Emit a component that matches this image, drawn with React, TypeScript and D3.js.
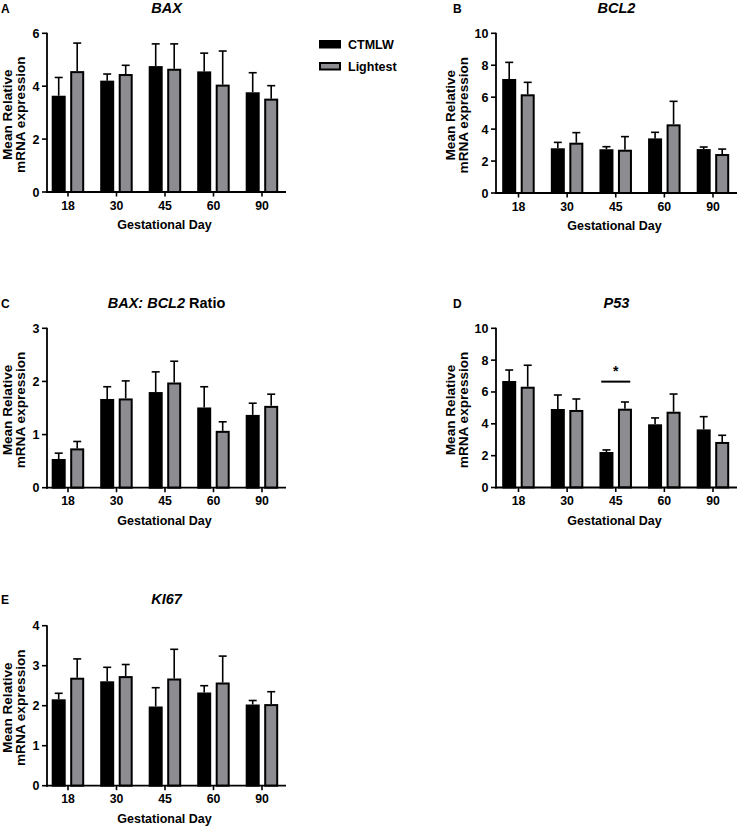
import React from "react";
import * as d3 from "d3";

const days = ["18", "30", "45", "60", "90"];
const seriesNames = ["CTMLW", "Lightest"];

const baxCtmlw = [3.64, 4.21, 4.76, 4.56, 3.77];
const baxCtmlwSem = [0.69, 0.25, 0.84, 0.69, 0.74];
const baxLightest = [4.57, 4.46, 4.66, 4.06, 3.53];
const baxLightestSem = [1.06, 0.33, 0.94, 1.27, 0.49];

const bcl2Ctmlw = [7.14, 2.8, 2.74, 3.42, 2.75];
const bcl2CtmlwSem = [1.04, 0.37, 0.16, 0.38, 0.13];
const bcl2Lightest = [6.18, 3.15, 2.71, 4.3, 2.44];
const bcl2LightestSem = [0.75, 0.63, 0.82, 1.44, 0.31];

const ratioCtmlw = [0.54, 1.67, 1.8, 1.51, 1.37];
const ratioCtmlwSem = [0.11, 0.23, 0.38, 0.39, 0.22];
const ratioLightest = [0.74, 1.68, 1.98, 1.07, 1.54];
const ratioLightestSem = [0.13, 0.33, 0.4, 0.17, 0.22];

const p53Ctmlw = [6.69, 4.93, 2.23, 3.97, 3.65];
const p53CtmlwSem = [0.69, 0.88, 0.13, 0.4, 0.8];
const p53Lightest = [6.33, 4.87, 4.95, 4.76, 2.86];
const p53LightestSem = [1.35, 0.69, 0.42, 1.11, 0.42];

const ki67Ctmlw = [2.16, 2.61, 1.98, 2.33, 2.03];
const ki67CtmlwSem = [0.15, 0.35, 0.47, 0.17, 0.1];
const ki67Lightest = [2.7, 2.74, 2.68, 2.58, 2.04];
const ki67LightestSem = [0.47, 0.29, 0.73, 0.66, 0.31];

const baxTicks = [0, 2, 4, 6];
const bcl2Ticks = [0, 2, 4, 6, 8, 10];
const ratioTicks = [0, 1, 2, 3];
const p53Ticks = [0, 2, 4, 6, 8, 10];
const ki67Ticks = [0, 1, 2, 3, 4];

const p53SigDay = "45";
const p53SigValue = 6.65;

const FONT = "'Liberation Sans', Arial, Helvetica, sans-serif";
const GRAY = "#8c8c91";

type TitlePart = { t: string; italic: boolean };

type PanelDef = {
  letter: string;
  title: TitlePart[];
  left: boolean;
  top: number;
  bottom: number;
  yMax: number;
  ticks: number[];
  a: number[];
  aSem: number[];
  b: number[];
  bSem: number[];
  titleBase: number;
  sig?: { day: string; value: number };
};

const panels: PanelDef[] = [
  { letter: "A", title: [{ t: "BAX", italic: true }], left: true, top: 33.3, bottom: 192, yMax: 6, ticks: baxTicks, a: baxCtmlw, aSem: baxCtmlwSem, b: baxLightest, bSem: baxLightestSem, titleBase: 12.8 },
  { letter: "B", title: [{ t: "BCL2", italic: true }], left: false, top: 33.3, bottom: 193, yMax: 10, ticks: bcl2Ticks, a: bcl2Ctmlw, aSem: bcl2CtmlwSem, b: bcl2Lightest, bSem: bcl2LightestSem, titleBase: 12.8 },
  { letter: "C", title: [{ t: "BAX: BCL2", italic: true }, { t: " Ratio", italic: false }], left: true, top: 328.3, bottom: 487.7, yMax: 3, ticks: ratioTicks, a: ratioCtmlw, aSem: ratioCtmlwSem, b: ratioLightest, bSem: ratioLightestSem, titleBase: 307.8 },
  { letter: "D", title: [{ t: "P53", italic: true }], left: false, top: 328.3, bottom: 487.5, yMax: 10, ticks: p53Ticks, a: p53Ctmlw, aSem: p53CtmlwSem, b: p53Lightest, bSem: p53LightestSem, titleBase: 307.8, sig: { day: p53SigDay, value: p53SigValue } },
  { letter: "E", title: [{ t: "KI67", italic: true }], left: true, top: 625.7, bottom: 785.7, yMax: 4, ticks: ki67Ticks, a: ki67Ctmlw, aSem: ki67CtmlwSem, b: ki67Lightest, bSem: ki67LightestSem, titleBase: 604.3 },
];

function Panel({ p }: { p: PanelDef }) {
  const x0 = p.left ? 47 : 496;
  const x1 = p.left ? 286 : 737;
  const c0 = p.left ? 68 : 518.5;
  const c1 = p.left ? 262 : 713;
  const letterX = p.left ? 1 : 453;
  const x = d3.scalePoint<string>().domain(days).range([c0, c1]).padding(0);
  const y = d3.scaleLinear().domain([0, p.yMax]).range([p.bottom, p.top]);
  const wide = p.yMax >= 10;
  const lab1 = x0 - (wide ? 41 : 35.5);
  const lab2 = x0 - (wide ? 27.7 : 22.5);
  const midY = (p.top + p.bottom) / 2 + 2;
  const titleX = (x0 + x1) / 2;
  const sw = 2;
  const bar = (cx: number, v: number, sem: number, fill: string, key: string, dx: number) => {
    const left = cx + dx;
    const w = 14;
    const yt = y(v);
    const ye = y(v + sem);
    const bc = left + w / 2;
    return (
      <g key={key}>
        <line x1={bc} x2={bc} y1={yt} y2={ye} stroke="#000" strokeWidth={1.6} />
        <line x1={bc - 4} x2={bc + 4} y1={ye} y2={ye} stroke="#000" strokeWidth={1.6} />
        <rect x={left + sw / 2} y={yt + sw / 2} width={w - sw} height={p.bottom - yt - sw / 2} fill={fill} stroke="#000" strokeWidth={sw} />
      </g>
    );
  };
  return (
    <g fontFamily={FONT} fontWeight="bold">
      <text x={letterX} y={p.titleBase} fontSize={12}>{p.letter}</text>
      <text x={titleX} y={p.titleBase} fontSize={14.5} textAnchor="middle">
        {p.title.map((tp, i) => (
          <tspan key={i} fontStyle={tp.italic ? "italic" : "normal"}>{tp.t}</tspan>
        ))}
      </text>
      {/* y label */}
      <text transform={`translate(${lab1},${midY}) rotate(-90)`} textAnchor="middle" fontSize={13.6}>Mean Relative</text>
      <text transform={`translate(${lab2},${midY}) rotate(-90)`} textAnchor="middle" fontSize={13.6}>mRNA expression</text>
      {/* bars */}
      {days.map((d, i) => {
        const cx = x(d) as number;
        return (
          <g key={d}>
            {bar(cx, p.a[i], p.aSem[i], "#000", "a" + d, -16.3)}
            {bar(cx, p.b[i], p.bSem[i], GRAY, "b" + d, 2.2)}
          </g>
        );
      })}
      {/* y axis */}
      <line x1={x0} x2={x0} y1={p.top - 0.5} y2={p.bottom + 1} stroke="#000" strokeWidth={1.8} />
      {p.ticks.map((t) => (
        <g key={t}>
          <line x1={x0 - 5} x2={x0} y1={y(t)} y2={y(t)} stroke="#000" strokeWidth={1.6} />
          <text x={x0 - 7.5} y={y(t)} dy="0.36em" textAnchor="end" fontSize={12.5}>{t}</text>
        </g>
      ))}
      {/* x axis */}
      <line x1={x0 - 1} x2={x1} y1={p.bottom} y2={p.bottom} stroke="#000" strokeWidth={1.8} />
      {days.map((d) => (
        <g key={d}>
          <line x1={x(d)} x2={x(d)} y1={p.bottom} y2={p.bottom + 4.5} stroke="#000" strokeWidth={1.6} />
          <text x={x(d)} y={p.bottom + 17.5} textAnchor="middle" fontSize={12.3}>{d}</text>
        </g>
      ))}
      <text x={(x0 + x1) / 2 - 2} y={p.bottom + 37} textAnchor="middle" fontSize={12.5}>Gestational Day</text>
      {p.sig && (
        <g>
          <line x1={(x(p.sig.day) as number) - 14.5} x2={(x(p.sig.day) as number) + 14.5} y1={y(p.sig.value)} y2={y(p.sig.value)} stroke="#000" strokeWidth={2} />
          <text x={x(p.sig.day) as number} y={y(p.sig.value) - 5.5} textAnchor="middle" fontSize={14}>*</text>
        </g>
      )}
    </g>
  );
}

export default function App() {
  return (
    <svg width={738} height={829} style={{ display: "block", position: "absolute", left: 0, top: 0, background: "#fff" }}>
      <rect width={738} height={829} fill="#fff" />
      {panels.map((p) => (
        <Panel key={p.letter} p={p} />
      ))}
      <g fontFamily={FONT} fontWeight="bold" fontSize={12.5}>
        {seriesNames.map((s, i) => (
          <g key={s}>
            <rect x={320} y={41 + i * 22} width={20} height={6.5} fill={i === 0 ? "#000" : GRAY} stroke="#000" strokeWidth={2} />
            <text x={348} y={48.5 + i * 22}>{s}</text>
          </g>
        ))}
      </g>
    </svg>
  );
}
